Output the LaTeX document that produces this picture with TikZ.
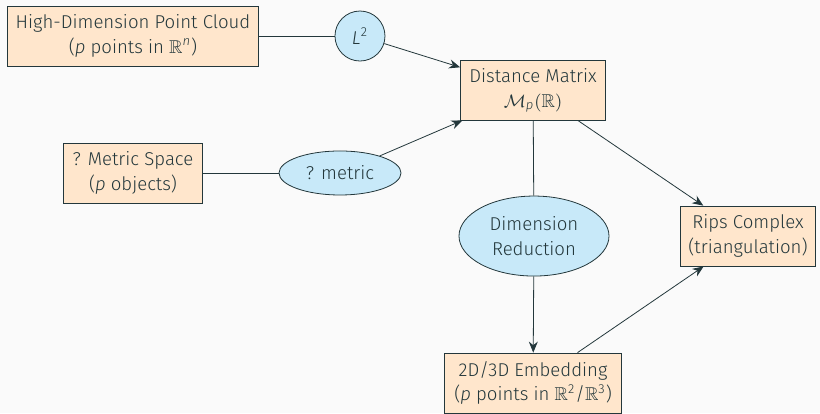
\documentclass[tikz,border=0pt]{standalone}
\usepackage{amsfonts,amsmath,amssymb}
\usepackage{fontspec}
\setmainfont{Fira Sans Light}[ItalicFont={Fira Sans Light Italic}]
\usepackage{tikz}
\usetikzlibrary{calc,shapes,arrows.meta}
\definecolor{mdark}{HTML}{23373B}
\definecolor{boxfill}{HTML}{FFE6CC}
\definecolor{ellfill}{HTML}{C8E9F9}
\definecolor{bgcol}{HTML}{FAFAFA}

\begin{document}
\begin{tikzpicture}[
	every node/.style={text=mdark, font=\fontsize{9.3}{12.4}\selectfont},
	databox/.style={draw=mdark, fill=boxfill, line width=0.4pt, align=center, minimum height=30pt, inner xsep=4pt},
	oper/.style={draw=mdark, fill=ellfill, line width=0.4pt, ellipse, align=center, inner sep=0pt},
	conn/.style={draw=mdark, line width=0.4pt},
	arr/.style={conn, -{Stealth[length=5.5pt,width=4.5pt]}}]
		\fill[bgcol] (0,0) rectangle (14.41,7.258);
		\useasboundingbox (0,0) rectangle (14.41,7.258);
		% data
		\node[databox, minimum width=125.5pt] (hd) at (2.337,6.625) {High-Dimension Point Cloud\\(\textit{p} points in $\mathbb{R}$\textsuperscript{\textit{n}})};
		\node[databox, minimum width=72.5pt] (dm) at (9.367,5.676) {Distance Matrix\\$\mathcal{M}_{\textit{p}}(\mathbb{R})$};
		\node[databox, minimum width=69.5pt] (ms) at (2.337,4.218) {? Metric Space\\(\textit{p} objects)};
		\node[databox, minimum width=63.5pt] (rips) at (13.145,3.110) {Rips Complex\\(triangulation)};
		\node[databox, minimum width=88.5pt] (emb) at (9.367,0.527) {2D/3D Embedding\\(\textit{p} points in $\mathbb{R}$\textsuperscript{2}/$\mathbb{R}$\textsuperscript{3})};
		% operations
		\node[oper, circle, minimum size=25pt] (l2) at (6.326,6.625) {\textit{L}\textsuperscript{2}};
		\node[oper, minimum width=61pt, minimum height=22pt] (met) at (5.975,4.218) {? metric};
		\node[oper, minimum width=75pt, minimum height=40pt] (dr) at (9.384,3.110) {Dimension\\Reduction};
		% connections
		\draw[conn] (hd) -- (l2);
		\draw[arr] (l2) -- (dm);
		\draw[conn] (ms) -- (met);
		\draw[arr] (met) -- (dm);
		\draw[arr] (dm) -- (rips);
		\draw[conn] (dm) -- (dr);
		\draw[arr] (dr) -- (emb);
		\draw[arr] (emb) -- (rips);
	\end{tikzpicture}
\end{document}
